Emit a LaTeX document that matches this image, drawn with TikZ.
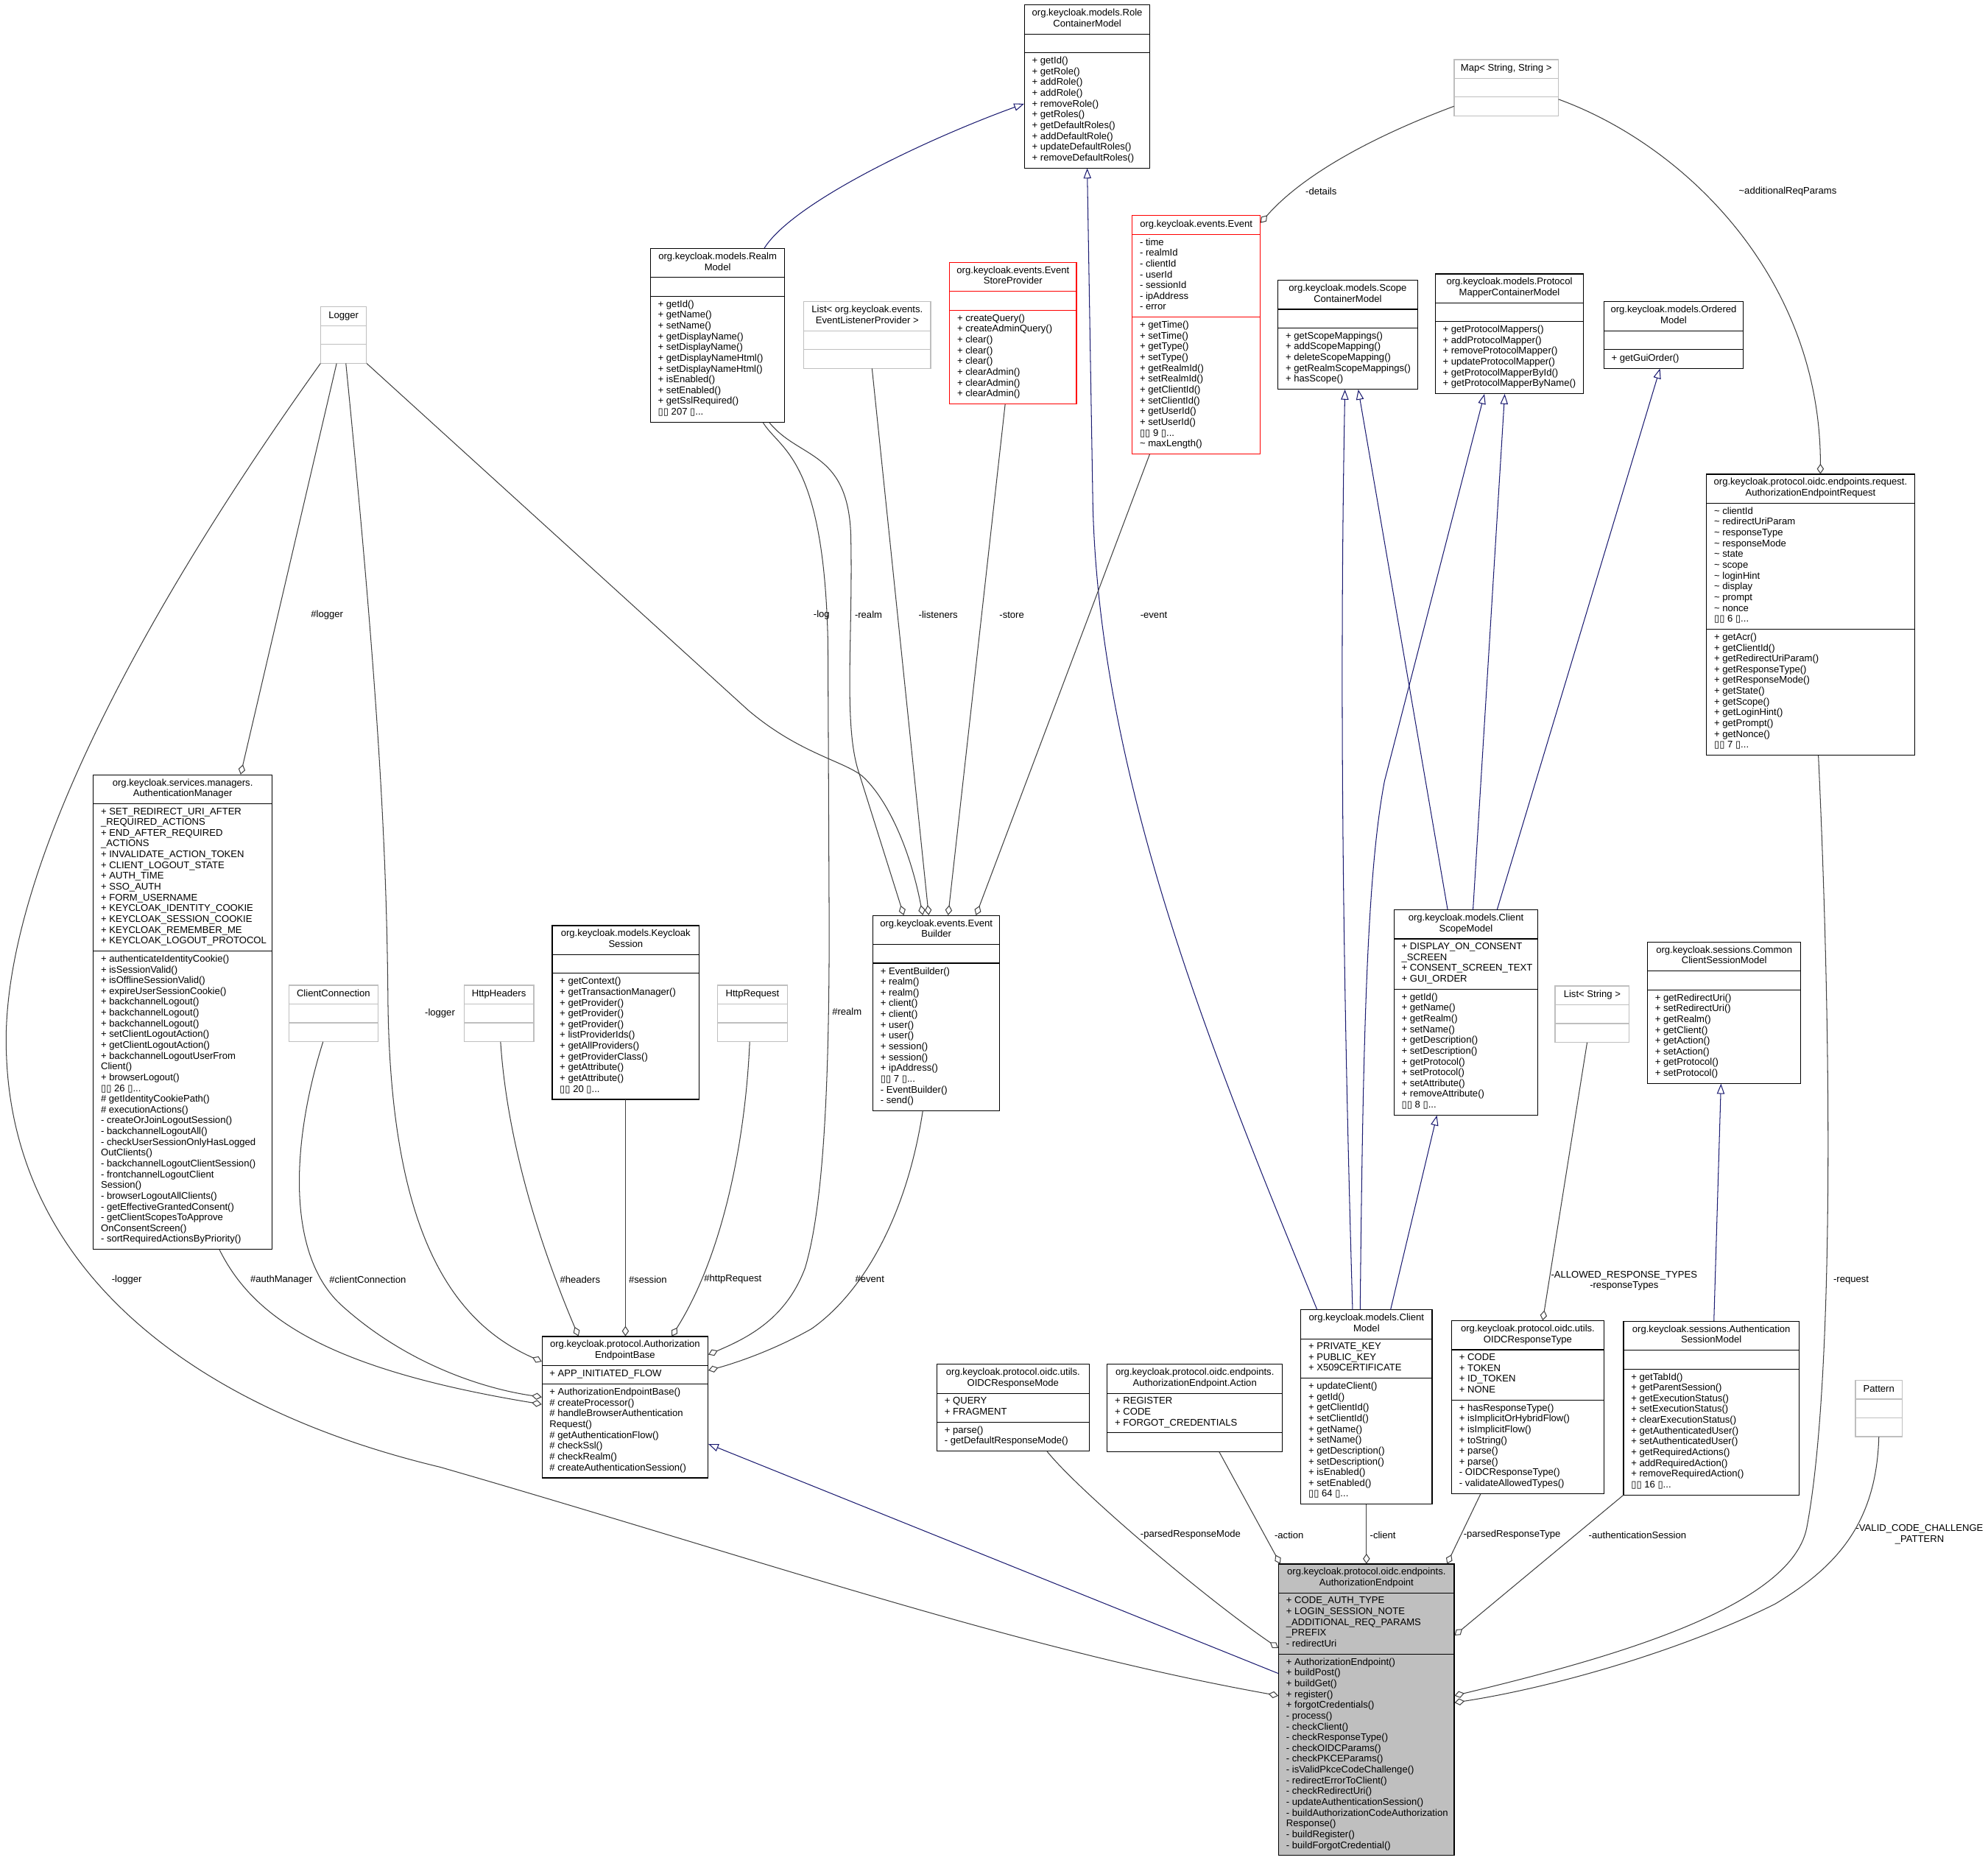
\documentclass[tikz,border=0pt]{standalone}
\usepackage{fontspec}
\setmainfont{Liberation Sans}
\newfontfamily\djv{DejaVu Sans}
\usetikzlibrary{arrows.meta,calc,fit,backgrounds}
\definecolor{boxgrey}{HTML}{BFBFBF}
\definecolor{edgegrey}{HTML}{404040}
\definecolor{navyblue}{HTML}{191970}
\definecolor{focusgrey}{HTML}{BFBFBF}
\newcommand\tofu{{\djv\char"25AF}}
\tikzset{
  sect/.style={inner xsep=6pt, inner ysep=3.15pt, outer sep=0pt, text=black,
    font=\fontsize{7.6}{8.5}\selectfont,
    execute at begin node=\strut, execute at end node=\strut},
  plainbox/.style={draw=black, line width=0.7pt},
  greybox/.style={draw=boxgrey, line width=0.7pt},
  redbox/.style={draw=red, line width=0.7pt},
  focusbox/.style={draw=black, fill=focusgrey, line width=0.7pt},
  agg/.style={draw=edgegrey, line width=0.6pt, -{Diamond[open, length=8pt, width=5.5pt]}},
  inh/.style={draw=navyblue, line width=0.6pt, -{Triangle[open, length=8pt, width=6pt]}},
  lab/.style={font=\fontsize{7.6}{8.5}\selectfont, inner sep=0pt, text=black}
}
% name, x, y, width, style, title, attributes, methods
\newcommand\umlbox[8]{%
  \coordinate (#1-nw) at (#2,#3);
  \node[sect, anchor=north, align=center] (#1-t) at (#2+#4/2,#3) {#6};
  \node[sect, anchor=north west, align=left] (#1-a) at (#1-t.south -| #1-nw) {#7};
  \node[sect, anchor=north west, align=left] (#1-m) at (#1-a.south -| #1-nw) {#8};
  \coordinate (#1-se) at ($(#1-m.south -| #1-nw)+(#4,0)$);
  \begin{pgfonlayer}{background}
    \draw[#5] (#1-nw) rectangle (#1-se);
    \draw[#5] (#1-t.south -| #1-nw) -- ++(#4,0);
    \draw[#5] (#1-a.south -| #1-nw) -- ++(#4,0);
  \end{pgfonlayer}
  \node[fit=(#1-nw)(#1-se), inner sep=0pt] (#1) {};
}
\begin{document}
\begin{tikzpicture}[x=1pt,y=-1pt]
\begin{pgfonlayer}{background}
\fill[white] (0,0) rectangle (1568,1468.7);
\end{pgfonlayer}
\useasboundingbox (0,0) rectangle (1568,1468.7);

% ---------------- classes ----------------
\umlbox{RCM}{808}{4}{99}{plainbox}{org.keycloak.models.Role\\ContainerModel}{}{+ getId()\\+ getRole()\\+ addRole()\\+ addRole()\\+ removeRole()\\+ getRoles()\\+ getDefaultRoles()\\+ addDefaultRole()\\+ updateDefaultRoles()\\+ removeDefaultRoles()}

\umlbox{Map}{1147}{47}{82}{greybox}{Map< String, String >}{}{}

\umlbox{EV}{893}{170}{101}{redbox}{org.keycloak.events.Event}{- time\\- realmId\\- clientId\\- userId\\- sessionId\\- ipAddress\\- error}{+ getTime()\\+ setTime()\\+ getType()\\+ setType()\\+ getRealmId()\\+ setRealmId()\\+ getClientId()\\+ setClientId()\\+ getUserId()\\+ setUserId()\\\tofu\tofu\ 9 \tofu...\\\textasciitilde{} maxLength()}

\umlbox{ESP}{749}{207}{100}{redbox}{org.keycloak.events.Event\\StoreProvider}{}{+ createQuery()\\+ createAdminQuery()\\+ clear()\\+ clear()\\+ clear()\\+ clearAdmin()\\+ clearAdmin()\\+ clearAdmin()}

\umlbox{SCM}{1008}{221}{110}{plainbox}{org.keycloak.models.Scope\\ContainerModel}{}{+ getScopeMappings()\\+ addScopeMapping()\\+ deleteScopeMapping()\\+ getRealmScopeMappings()\\+ hasScope()}

\umlbox{PMCM}{1132}{216}{117}{plainbox}{org.keycloak.models.Protocol\\MapperContainerModel}{}{+ getProtocolMappers()\\+ addProtocolMapper()\\+ removeProtocolMapper()\\+ updateProtocolMapper()\\+ getProtocolMapperById()\\+ getProtocolMapperByName()}

\umlbox{OM}{1265}{238}{110}{plainbox}{org.keycloak.models.Ordered\\Model}{}{+ getGuiOrder()}

\umlbox{AER}{1346}{374}{164}{plainbox}{org.keycloak.protocol.oidc.endpoints.request.\\AuthorizationEndpointRequest}{\textasciitilde{} clientId\\\textasciitilde{} redirectUriParam\\\textasciitilde{} responseType\\\textasciitilde{} responseMode\\\textasciitilde{} state\\\textasciitilde{} scope\\\textasciitilde{} loginHint\\\textasciitilde{} display\\\textasciitilde{} prompt\\\textasciitilde{} nonce\\\tofu\tofu\ 6 \tofu...}{+ getAcr()\\+ getClientId()\\+ getRedirectUriParam()\\+ getResponseType()\\+ getResponseMode()\\+ getState()\\+ getScope()\\+ getLoginHint()\\+ getPrompt()\\+ getNonce()\\\tofu\tofu\ 7 \tofu...}

\umlbox{RM}{513}{196}{106}{plainbox}{org.keycloak.models.Realm\\Model}{}{+ getId()\\+ getName()\\+ setName()\\+ getDisplayName()\\+ setDisplayName()\\+ getDisplayNameHtml()\\+ setDisplayNameHtml()\\+ isEnabled()\\+ setEnabled()\\+ getSslRequired()\\\tofu\tofu\ 207 \tofu...}

\umlbox{LELP}{634}{238}{100}{greybox}{List< org.keycloak.events.\\EventListenerProvider >}{}{}

\umlbox{LOG}{253}{242}{36}{greybox}{Logger}{}{}

\umlbox{AM}{73.6}{611}{141}{plainbox}{org.keycloak.services.managers.\\AuthenticationManager}{+ SET\_REDIRECT\_URI\_AFTER\\\_REQUIRED\_ACTIONS\\+ END\_AFTER\_REQUIRED\\\_ACTIONS\\+ INVALIDATE\_ACTION\_TOKEN\\+ CLIENT\_LOGOUT\_STATE\\+ AUTH\_TIME\\+ SSO\_AUTH\\+ FORM\_USERNAME\\+ KEYCLOAK\_IDENTITY\_COOKIE\\+ KEYCLOAK\_SESSION\_COOKIE\\+ KEYCLOAK\_REMEMBER\_ME\\+ KEYCLOAK\_LOGOUT\_PROTOCOL}{+ authenticateIdentityCookie()\\+ isSessionValid()\\+ isOfflineSessionValid()\\+ expireUserSessionCookie()\\+ backchannelLogout()\\+ backchannelLogout()\\+ backchannelLogout()\\+ setClientLogoutAction()\\+ getClientLogoutAction()\\+ backchannelLogoutUserFrom\\Client()\\+ browserLogout()\\\tofu\tofu\ 26 \tofu...\\\# getIdentityCookiePath()\\\# executionActions()\\- createOrJoinLogoutSession()\\- backchannelLogoutAll()\\- checkUserSessionOnlyHasLogged\\OutClients()\\- backchannelLogoutClientSession()\\- frontchannelLogoutClient\\Session()\\- browserLogoutAllClients()\\- getEffectiveGrantedConsent()\\- getClientScopesToApprove\\OnConsentScreen()\\- sortRequiredActionsByPriority()}

\umlbox{CC}{228}{777}{70}{greybox}{ClientConnection}{}{}
\umlbox{HH}{366}{777}{55}{greybox}{HttpHeaders}{}{}

\umlbox{KS}{435.5}{730}{116}{plainbox}{org.keycloak.models.Keycloak\\Session}{}{+ getContext()\\+ getTransactionManager()\\+ getProvider()\\+ getProvider()\\+ getProvider()\\+ listProviderIds()\\+ getAllProviders()\\+ getProviderClass()\\+ getAttribute()\\+ getAttribute()\\\tofu\tofu\ 20 \tofu...}

\umlbox{HR}{566}{777}{55}{greybox}{HttpRequest}{}{}

\umlbox{EB}{688.5}{722}{100}{plainbox}{org.keycloak.events.Event\\Builder}{}{+ EventBuilder()\\+ realm()\\+ realm()\\+ client()\\+ client()\\+ user()\\+ user()\\+ session()\\+ session()\\+ ipAddress()\\\tofu\tofu\ 7 \tofu...\\- EventBuilder()\\- send()}

\umlbox{AEB}{427.5}{1054}{131}{plainbox}{org.keycloak.protocol.Authorization\\EndpointBase}{+ APP\_INITIATED\_FLOW}{+ AuthorizationEndpointBase()\\\# createProcessor()\\\# handleBrowserAuthentication\\Request()\\\# getAuthenticationFlow()\\\# checkSsl()\\\# checkRealm()\\\# createAuthenticationSession()}

\umlbox{ORM}{739}{1076}{120}{plainbox}{org.keycloak.protocol.oidc.utils.\\OIDCResponseMode}{+ QUERY\\+ FRAGMENT}{+ parse()\\- getDefaultResponseMode()}

\umlbox{ACT}{873.3}{1076}{138.2}{plainbox}{org.keycloak.protocol.oidc.endpoints.\\AuthorizationEndpoint.Action}{+ REGISTER\\+ CODE\\+ FORGOT\_CREDENTIALS}{}

\umlbox{CM}{1026}{1033}{103.5}{plainbox}{org.keycloak.models.Client\\Model}{+ PRIVATE\_KEY\\+ PUBLIC\_KEY\\+ X509CERTIFICATE}{+ updateClient()\\+ getId()\\+ getClientId()\\+ setClientId()\\+ getName()\\+ setName()\\+ getDescription()\\+ setDescription()\\+ isEnabled()\\+ setEnabled()\\\tofu\tofu\ 64 \tofu...}

\umlbox{ORT}{1145}{1041.6}{120}{plainbox}{org.keycloak.protocol.oidc.utils.\\OIDCResponseType}{+ CODE\\+ TOKEN\\+ ID\_TOKEN\\+ NONE}{+ hasResponseType()\\+ isImplicitOrHybridFlow()\\+ isImplicitFlow()\\+ toString()\\+ parse()\\+ parse()\\- OIDCResponseType()\\- validateAllowedTypes()}

\umlbox{AE}{1008.5}{1233.5}{138.5}{focusbox}{org.keycloak.protocol.oidc.endpoints.\\AuthorizationEndpoint}{+ CODE\_AUTH\_TYPE\\+ LOGIN\_SESSION\_NOTE\\\_ADDITIONAL\_REQ\_PARAMS\\\_PREFIX\\- redirectUri}{+ AuthorizationEndpoint()\\+ buildPost()\\+ buildGet()\\+ register()\\+ forgotCredentials()\\- process()\\- checkClient()\\- checkResponseType()\\- checkOIDCParams()\\- checkPKCEParams()\\- isValidPkceCodeChallenge()\\- redirectErrorToClient()\\- checkRedirectUri()\\- updateAuthenticationSession()\\- buildAuthorizationCodeAuthorization\\Response()\\- buildRegister()\\- buildForgotCredential()}

\umlbox{CSM}{1099.5}{717.6}{113.5}{plainbox}{org.keycloak.models.Client\\ScopeModel}{+ DISPLAY\_ON\_CONSENT\\\_SCREEN\\+ CONSENT\_SCREEN\_TEXT\\+ GUI\_ORDER}{+ getId()\\+ getName()\\+ getRealm()\\+ setName()\\+ getDescription()\\+ setDescription()\\+ getProtocol()\\+ setProtocol()\\+ setAttribute()\\+ removeAttribute()\\\tofu\tofu\ 8 \tofu...}

\umlbox{LS}{1226.5}{777.6}{58.5}{greybox}{List< String >}{}{}

\umlbox{CCSM}{1299.4}{743}{121}{plainbox}{org.keycloak.sessions.Common\\ClientSessionModel}{}{+ getRedirectUri()\\+ setRedirectUri()\\+ getRealm()\\+ getClient()\\+ getAction()\\+ setAction()\\+ getProtocol()\\+ setProtocol()}

\umlbox{ASM}{1280.5}{1042}{138.5}{plainbox}{org.keycloak.sessions.Authentication\\SessionModel}{}{+ getTabId()\\+ getParentSession()\\+ getExecutionStatus()\\+ setExecutionStatus()\\+ clearExecutionStatus()\\+ getAuthenticatedUser()\\+ setAuthenticatedUser()\\+ getRequiredActions()\\+ addRequiredAction()\\+ removeRequiredAction()\\\tofu\tofu\ 16 \tofu...}

\umlbox{PAT}{1463.4}{1088.6}{37}{greybox}{Pattern}{}{}

% ---------------- inheritance ----------------
\draw[inh] ($(RM.north west)+(90,0)$) .. controls (625,160) and (730,110) .. ($(RCM.north west)+(0,78)$);
\draw[inh] ($(CM.north west)+(13,0)$) .. controls (960,840) and (868,620) .. (862,400) -- (RCM.south);
\draw[inh] ($(CM.north west)+(41,0)$) .. controls (1060,800) and (1056,560) .. ($(SCM.south west)+(53,0)$);
\draw[inh] ($(CM.north west)+(47,0)$) .. controls (1075,820) and (1078,690) .. (1092,616) -- ($(PMCM.south west)+(39,0)$);
\draw[inh] ($(CM.north west)+(71,0)$) -- ($(CSM.south west)+(34,0)$);
\draw[inh] ($(CSM.north west)+(42.5,0)$) -- ($(SCM.south west)+(63.5,0)$);
\draw[inh] ($(CSM.north west)+(62.5,0)$) -- ($(PMCM.south west)+(55,0)$);
\draw[inh] ($(CSM.north west)+(81.5,0)$) -- ($(OM.south west)+(44.5,0)$);
\draw[inh] ($(ASM.north west)+(71.5,0)$) -- ($(CCSM.south west)+(58.2,0)$);
\draw[inh] ($(AE.north west)+(0,86.5)$) -- ($(AEB.north east)+(0,85)$);

% ---------------- aggregation ----------------
\draw[agg] ($(Map.north west)+(0,37)$) .. controls (1090,105) and (1030,135) .. ($(EV.north east)+(0,6)$);
\draw[agg] ($(Map.north east)+(0,31.5)$) .. controls (1330,115) and (1436,220) .. ($(AER.north west)+(90,0)$);
\draw[agg] ($(LOG.south west)+(12.7,0)$) -- ($(AM.north west)+(116.4,0)$);
\draw[agg] (LOG.south west) .. controls (100,500) and (0,700) .. (5,830) .. controls (10,1000) and (150,1110) .. (347,1157) .. controls (600,1230) and (800,1300) .. ($(AE.north west)+(0,104)$);
\draw[agg] ($(LOG.south west)+(20,0)$) .. controls (300,560) and (305,680) .. (306,790) .. controls (308,960) and (350,1040) .. ($(AEB.north west)+(0,20)$);
\draw[agg] (LOG.south east) -- (590,560) .. controls (630,594) and (665,600) .. (680,612) .. controls (700,630) and (718,670) .. ($(EB.north west)+(39.5,0)$);
\draw[agg] ($(RM.south west)+(94,0)$) .. controls (630,362) and (668,355) .. (671,420) .. controls (673,500) and (665,570) .. (677,608) -- ($(EB.north west)+(24.5,0)$);
\draw[agg] ($(RM.south west)+(89,0)$) .. controls (615,355) and (650,360) .. (653,507) -- (654,731) .. controls (654,850) and (650,950) .. (635,1000) .. controls (620,1040) and (590,1055) .. ($(AEB.north east)+(0,14.5)$);
\draw[agg] ($(LELP.south west)+(54,0)$) -- ($(EB.north west)+(44.2,0)$);
\draw[agg] ($(ESP.south west)+(44,0)$) -- ($(EB.north west)+(59.5,0)$);
\draw[agg] ($(EV.south west)+(14,0)$) -- ($(EB.north west)+(81.5,0)$);
\draw[agg] ($(EB.south west)+(39.5,0)$) .. controls (715,960) and (680,1020) .. (640,1048) .. controls (610,1065) and (580,1075) .. ($(AEB.north east)+(0,27)$);
\draw[agg] ($(KS.south west)+(58,0)$) -- ($(AEB.north west)+(66,0)$);
\draw[agg] ($(HH.south west)+(29,0)$) .. controls (400,900) and (425,980) .. ($(AEB.north west)+(29,0)$);
\draw[agg] ($(HR.south west)+(25.5,0)$) .. controls (588,900) and (570,990) .. ($(AEB.north west)+(102.5,0)$);
\draw[agg] ($(AM.south west)+(99.7,0)$) .. controls (200,1040) and (260,1080) .. ($(AEB.north west)+(0,53.7)$);
\draw[agg] ($(CC.south west)+(27,0)$) .. controls (230,900) and (225,990) .. (270,1030) .. controls (320,1075) and (380,1095) .. ($(AEB.north west)+(0,48)$);
\draw[agg] ($(ORM.south west)+(87,0)$) .. controls (850,1175) and (950,1260) .. ($(AE.north west)+(0,66.5)$);
\draw[agg] ($(ACT.south west)+(88.5,0)$) -- ($(AE.north west)+(1.5,0)$);
\draw[agg] (CM.south) -- (AE.north);
\draw[agg] ($(ORT.south west)+(23,0)$) -- ($(AE.north west)+(133,0)$);
\draw[agg] (ASM.south west) -- ($(AE.north east)+(0,56.5)$);
\draw[agg] ($(LS.south west)+(25.5,0)$) -- ($(ORT.north west)+(72,0)$);
\draw[agg] ($(AER.south west)+(88.4,0)$) .. controls (1446,850) and (1445,1100) .. (1425,1205) .. controls (1412,1270) and (1260,1310) .. ($(AE.north east)+(0,104)$);
\draw[agg] (PAT.south) .. controls (1480,1200) and (1450,1235) .. (1400,1265) .. controls (1330,1300) and (1230,1330) .. ($(AE.north east)+(0,109.5)$);

% ---------------- labels ----------------
\node[lab] (l1) at (1042,151) {-details};
\node[lab] (l2) at (1410,151) {\textasciitilde additionalReqParams};
\node[lab] (l3) at (258,485) {\#logger};
\node[lab] (l4) at (648,485) {-log};
\node[lab] (l5) at (685,485) {-realm};
\node[lab] (l6) at (740,485) {-listeners};
\node[lab] (l7) at (798,485) {-store};
\node[lab] (l8) at (910,485) {-event};
\node[lab] (l9) at (347,799) {-logger};
\node[lab] (l10) at (668,798) {\#realm};
\node[lab] (l11) at (100,1009.5) {-logger};
\node[lab] (l12) at (222,1009.5) {\#authManager};
\node[lab] (l13) at (290,1009.5) {\#clientConnection};
\node[lab] (l14) at (457.5,1009) {\#headers};
\node[lab] (l15) at (511,1009) {\#session};
\node[lab] (l16) at (578,1009) {\#httpRequest};
\node[lab] (l17) at (686,1009) {\#event};
\node[lab, align=center] (l18) at (1281,1010) {-ALLOWED\_RESPONSE\_TYPES\\-responseTypes};
\node[lab] (l19) at (1460,1009.7) {-request};
\node[lab] (l20) at (939,1210.5) {-parsedResponseMode};
\node[lab] (l21) at (1016.7,1210.5) {-action};
\node[lab] (l22) at (1090.7,1210.5) {-client};
\node[lab] (l23) at (1192.6,1210.5) {-parsedResponseType};
\node[lab] (l24) at (1291.5,1211) {-authenticationSession};
\node[lab, align=center] (l25) at (1514,1210) {-VALID\_CODE\_CHALLENGE\\\_PATTERN};
\end{tikzpicture}
\end{document}
